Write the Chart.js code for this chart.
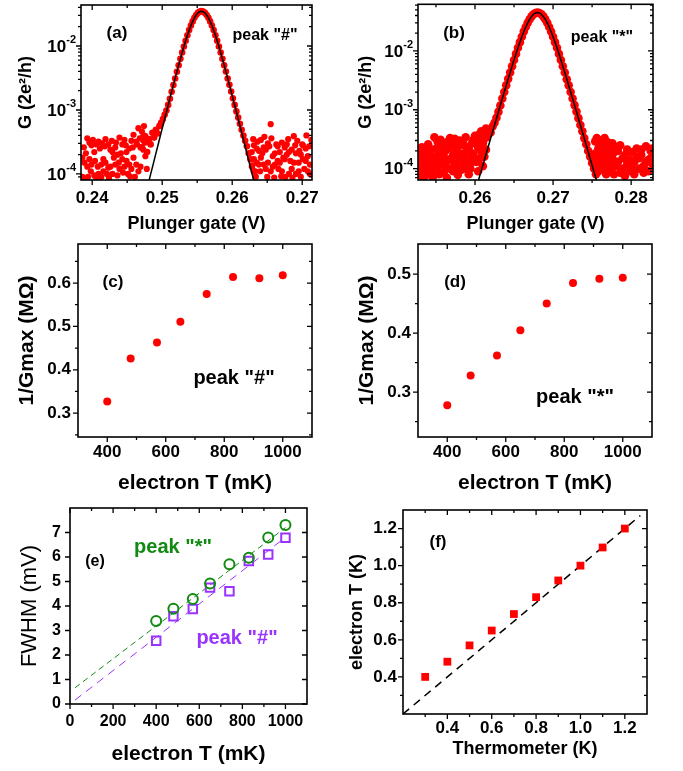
<!DOCTYPE html>
<html>
<head>
<meta charset="utf-8">
<script src="https://cdn.jsdelivr.net/npm/chart.js@4.4.1/dist/chart.umd.min.js"></script>
<style>
  body { margin: 0; background: #fff; overflow: hidden; }
  #fig { position: relative; width: 683px; height: 771px; }
  canvas { position: absolute; }
</style>
</head>
<body>
<div id="fig">
  <canvas id="pa" width="340" height="240" style="left:0;top:0"></canvas>
  <canvas id="pb" width="343" height="240" style="left:340px;top:0"></canvas>
  <canvas id="pc" width="340" height="270" style="left:0;top:232px"></canvas>
  <canvas id="pd" width="343" height="270" style="left:340px;top:232px"></canvas>
  <canvas id="pe" width="340" height="271" style="left:0;top:500px"></canvas>
  <canvas id="pf" width="343" height="271" style="left:340px;top:500px"></canvas>
</div>
<script>
const FONT = "'Liberation Sans', Arial, Helvetica, sans-serif";

// ---- panel (a): peak "#" conductance vs plunger gate ----
const peakAX = [0.2471, 0.24735, 0.2476, 0.24785, 0.2481, 0.24835, 0.2486, 0.24885, 0.2491, 0.24935, 0.2496, 0.24985,
  0.2501, 0.25035, 0.2506, 0.25085, 0.2511, 0.25135, 0.2516, 0.25185, 0.2521, 0.25235, 0.2526, 0.25285, 0.2531, 0.25335,
  0.2536, 0.25385, 0.2541, 0.25435, 0.2546, 0.25485, 0.2551, 0.25535, 0.2556, 0.25585, 0.2561, 0.25635, 0.2566, 0.25685,
  0.2571, 0.25735, 0.2576, 0.25785, 0.2581, 0.25835, 0.2586, 0.25885, 0.2591, 0.25935, 0.2596, 0.25985, 0.2601, 0.26035,
  0.2606, 0.26085, 0.2611, 0.26135, 0.2616, 0.26185, 0.2621, 0.26235, 0.2626, 0.26285, 0.2631, 0.26335];
const peakAY = [2.6e-4, 4.0e-4, 3.1e-4, 2.2e-4, 3.5e-4, 2.9e-4, 4.4e-4, 3.7e-4, 4.9e-4, 4.3e-4, 5.6e-4, 6.3e-4,
  7.2e-4, 8.4e-4, 9.8e-4, 1.2e-3, 1.5e-3, 1.93e-3, 2.45e-3, 3.1e-3, 3.95e-3, 5.0e-3, 6.3e-3, 7.9e-3, 9.8e-3, 0.0121,
  0.0147, 0.0177, 0.0209, 0.0242, 0.0275, 0.0305, 0.0329, 0.0345, 0.0350, 0.0345, 0.0329, 0.0305, 0.0275, 0.0242,
  0.0209, 0.0177, 0.0147, 0.0121, 0.0098, 0.0079, 0.0063, 0.0050, 0.0040, 0.0031, 0.00247, 0.00194, 0.00152, 0.0012,
  9.5e-4, 7.6e-4, 6.1e-4, 4.9e-4, 4.0e-4, 3.3e-4, 2.7e-4, 2.1e-4, 1.7e-4, 1.35e-4, 1.1e-4, 9.0e-5];
const tailA = [
  [0.2386,1.8e-4],[0.2386,0.9e-4],[0.2388,2.6e-4],[0.2389,0.85e-4],[0.2389,1.5e-4],[0.2391,2.1e-4],
  [0.2393,3.6e-4],[0.2393,1.3e-4],[0.2394,0.9e-4],[0.2396,1.7e-4],[0.2396,3.1e-4],[0.2398,1.1e-4],
  [0.2399,2.8e-4],[0.2399,1.4e-4],[0.2401,3.4e-4],[0.2403,0.95e-4],[0.2403,2.2e-4],[0.2404,1.6e-4],
  [0.2406,2.9e-4],[0.2406,0.87e-4],[0.2408,1.3e-4],[0.2409,3.2e-4],[0.2409,1.0e-4],[0.2411,2.5e-4],
  [0.2413,0.9e-4],[0.2413,1.4e-4],[0.2414,3.0e-4],[0.2416,1.1e-4],[0.2416,1.7e-4],[0.2418,2.7e-4],
  [0.2419,1.5e-4],[0.2419,3.5e-4],[0.2421,1.0e-4],[0.2423,1.25e-4],[0.2423,2.9e-4],[0.2424,0.86e-4],
  [0.2426,2.4e-4],[0.2426,1.3e-4],[0.2428,3.3e-4],[0.2429,1.0e-4],[0.2429,2.2e-4],[0.2431,1.8e-4],
  [0.2433,2.6e-4],[0.2433,1.4e-4],[0.2434,3.1e-4],[0.2436,2.0e-4],[0.2436,0.95e-4],[0.2438,1.5e-4],
  [0.2439,3.7e-4],[0.2439,1.2e-4],[0.2441,2.1e-4],[0.2443,1.7e-4],[0.2443,2.9e-4],[0.2444,1.05e-4],
  [0.2446,1.3e-4],[0.2446,3.4e-4],[0.2448,2.8e-4],[0.2449,1.6e-4],[0.2449,2.2e-4],[0.2451,1.0e-4],
  [0.2453,2.5e-4],[0.2453,1.4e-4],[0.2454,0.92e-4],[0.2456,3.3e-4],[0.2456,1.2e-4],[0.2458,2.6e-4],
  [0.2459,4.1e-4],[0.2459,1.8e-4],[0.2461,0.9e-4],[0.2463,1.4e-4],[0.2463,3.2e-4],[0.2464,2.9e-4],
  [0.2466,5.2e-4],[0.2466,1.1e-4],[0.2468,3.6e-4],[0.2469,1.3e-4],[0.2469,2.6e-4],[0.2471,4.6e-4],
  [0.2473,2.4e-4],[0.2473,3.3e-4],[0.2474,5.6e-4],[0.2476,3.9e-4],[0.2476,1.9e-4],[0.2478,1.2e-4],
  [0.2628,2.2e-4],[0.2628,1.3e-4],[0.2630,3.5e-4],[0.2631,1.7e-4],[0.2631,2.8e-4],[0.2633,1.1e-4],
  [0.2635,2.5e-4],[0.2635,1.5e-4],[0.2636,3.2e-4],[0.2638,1.4e-4],[0.2638,2.3e-4],[0.2640,1.1e-4],
  [0.2641,1.8e-4],[0.2641,3.4e-4],[0.2643,2.1e-4],[0.2645,2.6e-4],[0.2645,1.4e-4],[0.2646,3.8e-4],
  [0.2648,1.2e-4],[0.2648,2.4e-4],[0.2650,0.9e-4],[0.2651,3.0e-4],[0.2651,1.5e-4],[0.2653,2.7e-4],
  [0.2655,6.0e-4],[0.2655,1.1e-4],[0.2656,3.6e-4],[0.2658,1.3e-4],[0.2658,1.9e-4],[0.2660,0.88e-4],
  [0.2661,2.1e-4],[0.2661,1.4e-4],[0.2663,2.9e-4],[0.2665,2.7e-4],[0.2665,1.6e-4],[0.2666,1.2e-4],
  [0.2668,1.5e-4],[0.2668,2.2e-4],[0.2670,0.92e-4],[0.2671,1.1e-4],[0.2671,3.1e-4],[0.2673,1.8e-4],
  [0.2675,1.7e-4],[0.2675,2.6e-4],[0.2676,0.9e-4],[0.2678,2.9e-4],[0.2678,2.0e-4],[0.2680,3.5e-4],
  [0.2681,2.2e-4],[0.2681,1.0e-4],[0.2683,1.6e-4],[0.2685,1.2e-4],[0.2685,2.4e-4],[0.2686,0.87e-4],
  [0.2688,3.9e-4],[0.2688,1.5e-4],[0.2690,2.8e-4],[0.2691,1.0e-4],[0.2691,2.1e-4],[0.2693,3.3e-4],
  [0.2695,1.5e-4],[0.2695,1.1e-4],[0.2696,2.3e-4],[0.2698,2.0e-4],[0.2698,0.9e-4],[0.2700,2.9e-4],
  [0.2701,2.8e-4],[0.2701,1.7e-4],[0.2703,1.2e-4],[0.2705,1.6e-4],[0.2705,2.5e-4],[0.2706,4.0e-4],
  [0.2708,1.1e-4],[0.2708,1.9e-4],[0.2710,2.7e-4],[0.2711,1.4e-4],[0.2711,1.0e-4],[0.2713,3.4e-4]];
const fitAX = [0.2481, 0.24835, 0.2486, 0.24885, 0.2491, 0.24935, 0.2496, 0.24985, 0.2501, 0.25035, 0.2506, 0.25085,
  0.2511, 0.25135, 0.2516, 0.25185, 0.2521, 0.25235, 0.2526, 0.25285, 0.2531, 0.25335, 0.2536, 0.25385, 0.2541, 0.25435,
  0.2546, 0.25485, 0.2551, 0.25535, 0.2556, 0.25585, 0.2561, 0.25635, 0.2566, 0.25685, 0.2571, 0.25735, 0.2576, 0.25785,
  0.2581, 0.25835, 0.2586, 0.25885, 0.2591, 0.25935, 0.2596, 0.25985, 0.2601, 0.26035, 0.2606, 0.26085, 0.2611, 0.26135,
  0.2616, 0.26185, 0.2621, 0.26235, 0.2626, 0.26285, 0.2631];
const fitAY = [7.73e-5, 9.93e-5, 1.27e-4, 1.63e-4, 2.10e-4, 2.69e-4, 3.45e-4, 4.43e-4, 5.68e-4, 7.27e-4, 9.31e-4, 1.19e-3,
  1.52e-3, 1.94e-3, 2.47e-3, 3.14e-3, 3.98e-3, 5.03e-3, 6.32e-3, 7.91e-3, 9.81e-3, 1.208e-2, 1.470e-2, 1.766e-2, 2.088e-2,
  2.423e-2, 2.753e-2, 3.051e-2, 3.290e-2, 3.446e-2, 3.50e-2, 3.446e-2, 3.290e-2, 3.051e-2, 2.753e-2, 2.423e-2, 2.088e-2,
  1.766e-2, 1.470e-2, 1.208e-2, 9.81e-3, 7.91e-3, 6.32e-3, 5.03e-3, 3.98e-3, 3.14e-3, 2.47e-3, 1.94e-3, 1.52e-3, 1.19e-3,
  9.31e-4, 7.27e-4, 5.68e-4, 4.43e-4, 3.45e-4, 2.69e-4, 2.10e-4, 1.63e-4, 1.27e-4, 9.93e-5, 7.73e-5];

// ---- panel (b): peak "*" ----
const peakBX = [0.2605, 0.26075, 0.2610, 0.26125, 0.2615, 0.26175, 0.2620, 0.26225, 0.2625, 0.26275, 0.2630, 0.26325,
  0.2635, 0.26375, 0.2640, 0.26425, 0.2645, 0.26475, 0.2650, 0.26525, 0.2655, 0.26575, 0.2660, 0.26625, 0.2665, 0.26675,
  0.2670, 0.26725, 0.2675, 0.26775, 0.2680, 0.26825, 0.2685, 0.26875, 0.2690, 0.26925, 0.2695, 0.26975, 0.2700, 0.27025,
  0.2705, 0.27075, 0.2710, 0.27125, 0.2715, 0.27175, 0.2720, 0.27225, 0.2725, 0.27275, 0.2730, 0.27325, 0.2735, 0.27375,
  0.2740, 0.27425, 0.2745, 0.27475, 0.2750, 0.27525, 0.2755];
const peakBY = [2.4e-4, 3.2e-4, 2.8e-4, 3.9e-4, 3.4e-4, 4.6e-4, 4.1e-4, 5.2e-4, 6.0e-4, 7.3e-4, 9.2e-4, 1.18e-3,
  1.55e-3, 2.0e-3, 2.6e-3, 3.35e-3, 4.3e-3, 5.5e-3, 7.0e-3, 8.9e-3, 0.0113, 0.0141, 0.0174, 0.0213, 0.0255, 0.0300,
  0.0345, 0.0387, 0.0420, 0.0442, 0.0450, 0.0442, 0.0420, 0.0387, 0.0345, 0.0300, 0.0255, 0.0213, 0.0174, 0.0141,
  0.0113, 0.0089, 0.0070, 0.0055, 0.0043, 0.0033, 0.0026, 0.0020, 0.00155, 0.0012, 9.3e-4, 7.2e-4, 5.5e-4, 4.3e-4,
  3.3e-4, 2.6e-4, 2.0e-4, 1.6e-4, 1.25e-4, 1.0e-4, 8.0e-5];
const tailB = [
  [0.2528,1.5e-4],[0.2528,0.8e-4],[0.2528,2.0e-4],[0.2530,1.1e-4],[0.2530,0.7e-4],[0.2532,2.3e-4],[0.2532,0.9e-4],
  [0.2534,1.4e-4],[0.2534,1.8e-4],[0.2536,0.75e-4],[0.2536,1.2e-4],[0.2538,1.9e-4],[0.2538,1.0e-4],
  [0.2540,2.6e-4],[0.2540,0.85e-4],[0.2542,1.3e-4],[0.2542,1.7e-4],[0.2544,0.9e-4],[0.2544,2.1e-4],
  [0.2546,1.6e-4],[0.2546,0.72e-4],[0.2548,3.4e-4],[0.2548,1.1e-4],[0.2550,2.2e-4],[0.2550,1.5e-4],
  [0.2552,1.0e-4],[0.2552,2.9e-4],[0.2554,1.8e-4],[0.2554,0.8e-4],[0.2556,3.1e-4],[0.2556,1.3e-4],
  [0.2558,1.2e-4],[0.2558,2.4e-4],[0.2560,0.85e-4],[0.2560,1.6e-4],[0.2562,2.0e-4],[0.2562,1.1e-4],
  [0.2564,2.8e-4],[0.2564,0.7e-4],[0.2566,1.4e-4],[0.2566,2.2e-4],[0.2568,1.0e-4],[0.2568,3.3e-4],
  [0.2570,2.5e-4],[0.2570,1.5e-4],[0.2572,1.7e-4],[0.2572,0.9e-4],[0.2574,3.2e-4],[0.2574,1.2e-4],
  [0.2576,1.1e-4],[0.2576,2.0e-4],[0.2578,2.4e-4],[0.2578,0.78e-4],[0.2580,1.5e-4],[0.2580,3.0e-4],
  [0.2582,0.95e-4],[0.2582,1.8e-4],[0.2584,2.9e-4],[0.2584,1.3e-4],[0.2586,1.6e-4],[0.2586,2.5e-4],
  [0.2588,3.4e-4],[0.2588,1.0e-4],[0.2590,1.2e-4],[0.2590,2.1e-4],[0.2592,2.2e-4],[0.2592,0.8e-4],
  [0.2594,1.0e-4],[0.2594,1.6e-4],[0.2596,2.7e-4],[0.2596,1.3e-4],[0.2598,1.8e-4],[0.2598,3.1e-4],
  [0.2600,3.6e-4],[0.2600,1.5e-4],[0.2602,1.3e-4],[0.2602,2.6e-4],[0.2604,2.3e-4],[0.2604,0.9e-4],
  [0.2606,1.5e-4],[0.2606,3.9e-4],[0.2608,4.3e-4],[0.2608,2.0e-4],[0.2610,1.1e-4],[0.2610,2.7e-4],
  [0.2612,3.3e-4],[0.2612,1.6e-4],[0.2614,2.1e-4],[0.2614,4.8e-4],
  [0.2754,1.8e-4],[0.2754,2.9e-4],[0.2754,1.1e-4],[0.2756,3.3e-4],[0.2756,1.4e-4],[0.2758,2.2e-4],[0.2758,0.9e-4],
  [0.2760,1.6e-4],[0.2760,2.6e-4],[0.2762,3.0e-4],[0.2762,1.2e-4],[0.2764,1.0e-4],[0.2764,2.0e-4],
  [0.2766,2.4e-4],[0.2766,3.3e-4],[0.2768,1.4e-4],[0.2768,0.8e-4],[0.2770,2.8e-4],[0.2770,1.7e-4],
  [0.2772,1.2e-4],[0.2772,2.2e-4],[0.2774,2.0e-4],[0.2774,0.95e-4],[0.2776,1.5e-4],[0.2776,2.7e-4],
  [0.2778,0.8e-4],[0.2778,1.9e-4],[0.2780,2.3e-4],[0.2780,1.1e-4],[0.2783,1.3e-4],[0.2783,2.0e-4],
  [0.2786,2.5e-4],[0.2786,0.85e-4],[0.2789,1.0e-4],[0.2789,1.5e-4],[0.2792,1.7e-4],[0.2792,0.75e-4],
  [0.2795,1.2e-4],[0.2795,2.1e-4],[0.2798,0.9e-4],[0.2798,1.4e-4],[0.2801,1.9e-4],[0.2801,1.0e-4],
  [0.2804,1.3e-4],[0.2804,0.8e-4],[0.2807,2.2e-4],[0.2807,1.6e-4],[0.2810,1.5e-4],[0.2810,1.0e-4],
  [0.2813,1.7e-4],[0.2813,2.1e-4],[0.2816,1.1e-4],[0.2816,0.85e-4],[0.2819,2.4e-4],[0.2819,1.3e-4],
  [0.2822,1.4e-4],[0.2822,0.9e-4],[0.2825,2.0e-4],[0.2825,1.5e-4],[0.2827,1.2e-4],[0.2827,2.2e-4]];
const fitBX = [0.26025, 0.2605, 0.26075, 0.2610, 0.26125, 0.2615, 0.26175, 0.2620, 0.26225, 0.2625, 0.26275, 0.2630,
  0.26325, 0.2635, 0.26375, 0.2640, 0.26425, 0.2645, 0.26475, 0.2650, 0.26525, 0.2655, 0.26575, 0.2660, 0.26625, 0.2665,
  0.26675, 0.2670, 0.26725, 0.2675, 0.26775, 0.2680, 0.26825, 0.2685, 0.26875, 0.2690, 0.26925, 0.2695, 0.26975, 0.2700,
  0.27025, 0.2705, 0.27075, 0.2710, 0.27125, 0.2715, 0.27175, 0.2720, 0.27225, 0.2725, 0.27275, 0.2730, 0.27325, 0.2735,
  0.27375, 0.2740, 0.27425, 0.2745, 0.27475, 0.2750, 0.27525, 0.2755, 0.27575];
const fitBY = [5.15e-5, 6.70e-5, 8.72e-5, 1.13e-4, 1.47e-4, 1.92e-4, 2.49e-4, 3.24e-4, 4.21e-4, 5.47e-4, 7.11e-4, 9.23e-4,
  1.20e-3, 1.55e-3, 2.01e-3, 2.59e-3, 3.34e-3, 4.30e-3, 5.52e-3, 7.04e-3, 8.94e-3, 1.127e-2, 1.409e-2, 1.742e-2, 2.125e-2,
  2.551e-2, 3.002e-2, 3.452e-2, 3.866e-2, 4.202e-2, 4.423e-2, 4.50e-2, 4.423e-2, 4.202e-2, 3.866e-2, 3.452e-2, 3.002e-2,
  2.551e-2, 2.125e-2, 1.742e-2, 1.409e-2, 1.127e-2, 8.94e-3, 7.04e-3, 5.52e-3, 4.30e-3, 3.34e-3, 2.59e-3, 2.01e-3,
  1.55e-3, 1.20e-3, 9.23e-4, 7.11e-4, 5.47e-4, 4.21e-4, 3.24e-4, 2.49e-4, 1.92e-4, 1.47e-4, 1.13e-4, 8.72e-5, 6.70e-5, 5.15e-5];

// ---- panels (c)-(e): vs electron temperature ----
const electronT = [400, 480, 570, 650, 740, 830, 920, 1000];
const invGmaxHash = [0.327, 0.426, 0.463, 0.511, 0.575, 0.614, 0.611, 0.618];
const invGmaxStar = [0.278, 0.328, 0.362, 0.405, 0.450, 0.485, 0.492, 0.494];
const fwhmStar = [3.39, 3.89, 4.29, 4.92, 5.70, 5.97, 6.80, 7.31];
const fwhmHash = [2.58, 3.58, 3.88, 4.75, 4.60, 5.84, 6.10, 6.79];
const fitStarX = [23, 1000], fitStarY = [0.66, 7.20];
const fitHashX = [23, 985], fitHashY = [0.16, 6.70];

// ---- panel (f): electron T vs thermometer ----
const thermometer = [0.3, 0.4, 0.5, 0.6, 0.7, 0.8, 0.9, 1.0, 1.1, 1.2];
const electronTK = [0.40, 0.482, 0.57, 0.65, 0.739, 0.83, 0.92, 1.0, 1.098, 1.2];
const identityX = [0.2, 1.27], identityY = [0.2, 1.27];

// ---- tick values ----
const gateTicksA = [0.24, 0.25, 0.26, 0.27], gateMinorA = [0.245, 0.255, 0.265];
const gateTicksB = [0.26, 0.27, 0.28], gateMinorB = [0.255, 0.265, 0.275];
const logMajor = [1e-4, 1e-3, 1e-2];
const logMinorA = [9e-5, 2e-4, 3e-4, 4e-4, 5e-4, 6e-4, 7e-4, 8e-4, 9e-4, 2e-3, 3e-3, 4e-3, 5e-3, 6e-3, 7e-3, 8e-3, 9e-3, 2e-2, 3e-2, 4e-2];
const logMinorB = [7e-5, 8e-5, 9e-5, 2e-4, 3e-4, 4e-4, 5e-4, 6e-4, 7e-4, 8e-4, 9e-4, 2e-3, 3e-3, 4e-3, 5e-3, 6e-3, 7e-3, 8e-3, 9e-3, 2e-2, 3e-2, 4e-2, 5e-2, 6e-2];
const tTicks = [400, 600, 800, 1000], tMinor = [500, 700, 900];
const tTicksE = [0, 200, 400, 600, 800, 1000], tMinorE = [100, 300, 500, 700, 900];
const rTicksC = [0.3, 0.4, 0.5, 0.6], rMinorC = [0.25, 0.35, 0.45, 0.55, 0.65];
const rTicksD = [0.3, 0.4, 0.5], rMinorD = [0.25, 0.35, 0.45];
const fwhmTicks = [0, 1, 2, 3, 4, 5, 6, 7];
const kTicks = [0.4, 0.6, 0.8, 1.0, 1.2], kMinor = [0.3, 0.5, 0.7, 0.9, 1.1];

const RED = '#ff0000', GREEN = '#118a11', PURPLE = '#9933ff';

// frame, mirrored tick marks, log labels and in-plot notes
const frame = {
  id: 'frame',
  afterDatasetsDraw(chart, args, o) {
    const { ctx, chartArea: a } = chart;
    const sx = chart.scales.x, sy = chart.scales.y;
    ctx.save();
    ctx.strokeStyle = '#000';
    ctx.lineWidth = 1.3;
    const marks = (scale, values, len) => {
      ctx.beginPath();
      values.forEach((v) => {
        const p = scale.getPixelForValue(v);
        if (scale.isHorizontal()) {
          ctx.moveTo(p, a.bottom); ctx.lineTo(p, a.bottom + len);
          ctx.moveTo(p, a.top); ctx.lineTo(p, a.top + len);
        } else {
          ctx.moveTo(a.left, p); ctx.lineTo(a.left - len, p);
          ctx.moveTo(a.right, p); ctx.lineTo(a.right - len, p);
        }
      });
      ctx.stroke();
    };
    marks(sx, o.xMajor, 5); marks(sx, o.xMinor, 3);
    marks(sy, o.yMajor, 5); marks(sy, o.yMinor, 3);
    ctx.lineWidth = 1.6;
    ctx.strokeRect(a.left, a.top, a.right - a.left, a.bottom - a.top);

    ctx.fillStyle = '#000';
    ctx.textBaseline = 'middle';
    if (o.logY) {
      const L = o.logY;
      o.yMajor.forEach((v) => {
        const p = sy.getPixelForValue(v);
        const e = String(Math.round(Math.log10(v)));
        ctx.font = `bold ${L.sup}px ${FONT}`;
        const xe = a.left - L.pad - ctx.measureText(e).width;
        ctx.textAlign = 'left';
        ctx.fillText(e, xe, p - L.rise);
        ctx.font = `bold ${L.size}px ${FONT}`;
        ctx.textAlign = 'right';
        ctx.fillText('10', xe, p + 1);
      });
    }
    (o.notes || []).forEach((n) => {
      ctx.font = `bold ${n.size}px ${FONT}`;
      ctx.fillStyle = n.color || '#000';
      ctx.textAlign = 'center';
      ctx.fillText(n.text, n.x, n.y);
    });
    ctx.restore();
  },
};
Chart.register(frame);

function axis(o, pos) {
  const bottom = pos === 'bottom';
  return {
    type: o.log ? 'logarithmic' : 'linear',
    position: pos,
    min: o.min,
    max: o.max,
    grid: { display: false, drawTicks: false },
    border: { display: false },
    ticks: {
      display: !o.log,
      autoSkip: false,
      maxRotation: 0,
      padding: o.pad,
      color: '#000',
      font: { family: FONT, size: o.size, weight: 'bold' },
      callback: (v) => Number(v).toFixed(o.dec),
    },
    afterBuildTicks: (s) => { s.ticks = o.major.map((v) => ({ value: v })); },
    afterFit: (s) => {
      if (bottom) s.height = o.box; else s.width = o.box;
      s.paddingLeft = s.paddingRight = s.paddingTop = s.paddingBottom = 0;
    },
    title: {
      display: true,
      text: o.title,
      color: '#000',
      font: { family: FONT, size: o.tsize, weight: o.tweight || 'bold' },
      padding: bottom ? { top: 0, bottom: o.tpad } : { top: o.tpad, bottom: 0 },
    },
  };
}

function panel(id, cfg) {
  return new Chart(document.getElementById(id), {
    type: 'scatter',
    data: { datasets: cfg.datasets },
    options: {
      responsive: false,
      animation: false,
      events: [],
      layout: { padding: { left: 0, top: cfg.pad[0], right: cfg.pad[1], bottom: 0 } },
      plugins: { legend: { display: false }, tooltip: { enabled: false }, frame: cfg.frame },
      scales: { x: axis(cfg.x, 'bottom'), y: axis(cfg.y, 'left') },
    },
  });
}

const xy = (xs, ys) => xs.map((x, i) => ({ x, y: ys[i] }));
const pairs = (list) => list.map(([x, y]) => ({ x, y }));
const dots = (data, r, color) => ({ data, pointRadius: r, pointBackgroundColor: color, pointBorderWidth: 0 });
const line = (data, color, width, dash) => ({
  data, showLine: true, pointRadius: 0, borderColor: color, borderWidth: width, borderDash: dash || [],
});

panel('pa', {
  pad: [5, 28],
  datasets: [line(xy(fitAX, fitAY), '#000', 1.5), dots(xy(peakAX, peakAY), 3.3, RED), dots(pairs(tailA), 3.1, RED)],
  x: { min: 0.2384, max: 0.2714, major: gateTicksA, dec: 2, size: 17, pad: 8, box: 60,
       title: 'Plunger gate (V)', tsize: 18, tpad: 5 },
  y: { log: true, min: 8.05e-5, max: 0.0437, major: logMajor, box: 81, title: 'G (2e²/h)', tsize: 18, tpad: 15 },
  frame: { xMajor: gateTicksA, xMinor: gateMinorA, yMajor: logMajor, yMinor: logMinorA,
           logY: { size: 17, sup: 11, pad: 5, rise: 6 },
           notes: [{ text: '(a)', x: 117, y: 33, size: 17 }, { text: 'peak "#"', x: 265, y: 36, size: 16 }] },
});

panel('pb', {
  pad: [4, 30],
  datasets: [line(xy(fitBX, fitBY), '#000', 1.5), dots(xy(peakBX, peakBY), 4.3, RED), dots(pairs(tailB), 4.3, RED)],
  x: { min: 0.2527, max: 0.2828, major: gateTicksB, dec: 2, size: 17, pad: 8, box: 60,
       title: 'Plunger gate (V)', tsize: 18, tpad: 5 },
  y: { log: true, min: 6.4e-5, max: 0.062, major: logMajor, box: 78, title: 'G (2e²/h)', tsize: 18, tpad: 15 },
  frame: { xMajor: gateTicksB, xMinor: gateMinorB, yMajor: logMajor, yMinor: logMinorB,
           logY: { size: 17, sup: 11, pad: 5, rise: 6 },
           notes: [{ text: '(b)', x: 114, y: 33, size: 17 }, { text: 'peak "*"', x: 262, y: 38, size: 16 }] },
});

panel('pc', {
  pad: [12, 28],
  datasets: [dots(xy(electronT, invGmaxHash), 4, RED)],
  x: { min: 300, max: 1100, major: tTicks, dec: 0, size: 17, pad: 5, box: 65,
       title: 'electron T (mK)', tsize: 21, tpad: 6 },
  y: { min: 0.245, max: 0.69, major: rTicksC, dec: 1, size: 17, pad: 7, box: 78,
       title: '1/Gmax (MΩ)', tsize: 21, tpad: 15 },
  frame: { xMajor: tTicks, xMinor: tMinor, yMajor: rTicksC, yMinor: rMinorC,
           notes: [{ text: '(c)', x: 113, y: 50, size: 17 }, { text: 'peak "#"', x: 234, y: 146, size: 20 }] },
});

panel('pd', {
  pad: [12, 31],
  datasets: [dots(xy(electronT, invGmaxStar), 4, RED)],
  x: { min: 300, max: 1100, major: tTicks, dec: 0, size: 17, pad: 5, box: 65,
       title: 'electron T (mK)', tsize: 21, tpad: 6 },
  y: { min: 0.224, max: 0.551, major: rTicksD, dec: 1, size: 17, pad: 7, box: 78,
       title: '1/Gmax (MΩ)', tsize: 21, tpad: 15 },
  frame: { xMajor: tTicks, xMinor: tMinor, yMajor: rTicksD, yMinor: rMinorD,
           notes: [{ text: '(d)', x: 115, y: 50, size: 17 }, { text: 'peak "*"', x: 235, y: 165, size: 20 }] },
});

panel('pe', {
  pad: [8, 33],
  datasets: [
    { data: xy(electronT, fwhmStar), pointRadius: 5, pointBorderColor: GREEN, pointBorderWidth: 2, pointBackgroundColor: 'transparent' },
    { data: xy(electronT, fwhmHash), pointStyle: 'rect', pointRadius: 6, pointBorderColor: PURPLE, pointBorderWidth: 2, pointBackgroundColor: 'transparent' },
    line(xy(fitStarX, fitStarY), GREEN, 1, [6, 4]),
    line(xy(fitHashX, fitHashY), PURPLE, 1, [8, 6]),
  ],
  x: { min: 0, max: 1100, major: tTicksE, dec: 0, size: 16, pad: 8, box: 67,
       title: 'electron T (mK)', tsize: 21, tpad: 4 },
  y: { min: 0, max: 8, major: fwhmTicks, dec: 0, size: 16, pad: 9, box: 70,
       title: 'FWHM (mV)', tsize: 22, tweight: 'normal', tpad: 17 },
  frame: { xMajor: tTicksE, xMinor: tMinorE, yMajor: fwhmTicks, yMinor: [],
           notes: [{ text: '(e)', x: 95, y: 62, size: 16 },
                   { text: 'peak "*"', x: 173, y: 47, size: 20, color: GREEN },
                   { text: 'peak "#"', x: 237, y: 138, size: 20, color: PURPLE }] },
});

panel('pf', {
  pad: [10, 36],
  datasets: [
    { data: xy(thermometer, electronTK), pointStyle: 'rect', pointRadius: 5.5, pointBackgroundColor: RED, pointBorderWidth: 0 },
    line(xy(identityX, identityY), '#000', 1.5, [8, 6]),
  ],
  x: { min: 0.2, max: 1.3, major: kTicks, dec: 1, size: 17, pad: 4, box: 57,
       title: 'Thermometer (K)', tsize: 18, tpad: 11 },
  y: { min: 0.2, max: 1.3, major: kTicks, dec: 1, size: 17, pad: 6, box: 63,
       title: 'electron T (K)', tsize: 18, tpad: 6 },
  frame: { xMajor: kTicks, xMinor: kMinor, yMajor: kTicks, yMinor: kMinor,
           notes: [{ text: '(f)', x: 98, y: 42, size: 17 }] },
});
</script>
</body>
</html>
